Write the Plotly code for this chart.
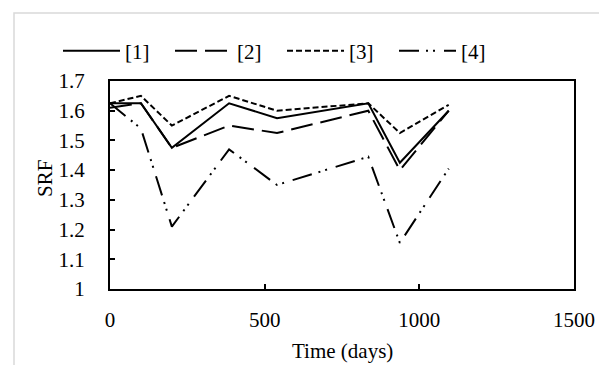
import plotly.graph_objects as go

days = [0, 100, 200, 385, 540, 835, 937, 1095]
s1 = [1.625, 1.625, 1.475, 1.625, 1.575, 1.625, 1.425, 1.6]
s2 = [1.61, 1.625, 1.475, 1.55, 1.525, 1.6, 1.4, 1.6]
s3 = [1.625, 1.65, 1.55, 1.65, 1.6, 1.625, 1.525, 1.62]
s4 = [1.625, 1.54, 1.21, 1.47, 1.35, 1.445, 1.155, 1.405]
names = ["[1]", "[2]", "[3]", "[4]"]
dashes = ["solid", "22px,8px", "6px,3px", "20px,7px,2px,5px,2px,9px"]

FONT = "Liberation Serif, Times New Roman, serif"
fig = go.Figure()
for name, ys, d in zip(names, [s1, s2, s3, s4], dashes):
    fig.add_trace(go.Scatter(x=days, y=ys, mode="lines", name=name,
                             line=dict(color="black", width=2, dash=d)))

L, R, T, B = 102, 41, 73, 84
W, H = 607, 365
pw, ph = W - L - R, H - T - B

def px2x(p):
    return (p - L) / pw

def py2y(p):
    return (H - B - p) / ph

fig.update_layout(
    width=W, height=H,
    margin=dict(l=L, r=R, t=T, b=B),
    paper_bgcolor="white", plot_bgcolor="white",
    font=dict(family=FONT, size=21, color="black"),
    showlegend=True,
    legend=dict(orientation="h", x=px2x(50), xanchor="left", y=py2y(43), yanchor="middle",
                font=dict(size=21), itemwidth=57, bgcolor="rgba(0,0,0,0)",
                entrywidth=40, entrywidthmode="pixels", tracegroupgap=0),
    xaxis=dict(range=[0, 1500], tickmode="linear", tick0=0, dtick=500,
               ticks="inside", ticklen=5, tickwidth=1.5, tickcolor="black",
               showline=True, linecolor="black", linewidth=2, mirror=True,
               showgrid=False, zeroline=False, ticklabelstandoff=11,
               tickfont=dict(size=21)),
    yaxis=dict(range=[1, 1.7], tickmode="linear", tick0=1, dtick=0.1,
               ticks="inside", ticklen=5, tickwidth=1.5, tickcolor="black",
               showline=True, linecolor="black", linewidth=2, mirror=True,
               showgrid=False, zeroline=False, ticklabelstandoff=19,
               tickfont=dict(size=21)),
    annotations=[
        dict(text="Time (days)", xref="paper", yref="paper", x=0.5, y=py2y(343),
             showarrow=False, xanchor="center", yanchor="middle", font=dict(size=21)),
        dict(text="SRF", xref="paper", yref="paper", x=px2x(37), y=py2y(171),
             showarrow=False, xanchor="center", yanchor="middle", textangle=-90,
             font=dict(size=21)),
    ],
    shapes=[
        dict(type="rect", xref="paper", yref="paper", x0=px2x(6), x1=px2x(603),
             y0=py2y(370), y1=py2y(5), line=dict(color="#d9d9d9", width=1.5),
             fillcolor="rgba(0,0,0,0)", layer="below"),
    ],
)

fig.write_html("out.html")
